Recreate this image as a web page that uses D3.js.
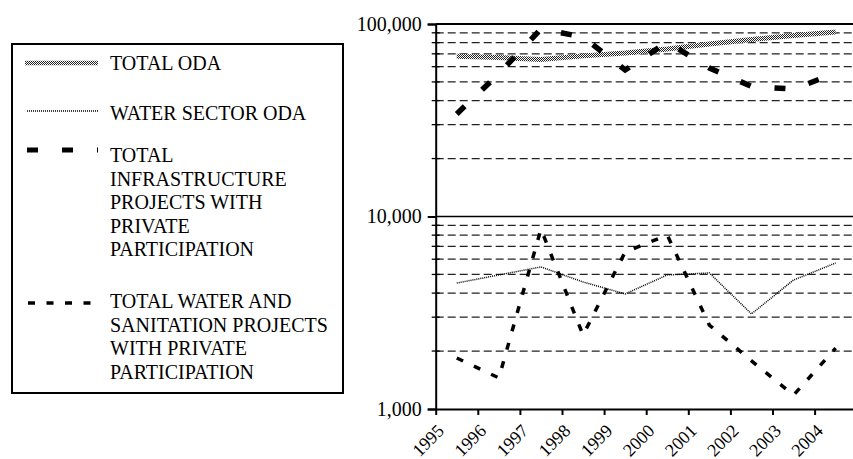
<!DOCTYPE html>
<html>
<head>
<meta charset="utf-8">
<script src="https://cdn.jsdelivr.net/npm/d3@7/dist/d3.min.js"></script>
<style>
  html, body { margin: 0; padding: 0; background: #fff; }
  svg { display: block; }
</style>
</head>
<body>
<svg id="chart" width="853" height="459"></svg>
<script>
// ---- data ----
const years = ["1995","1996","1997","1998","1999","2000","2001","2002","2003","2004"];
const totalOda = [67900, 67000, 65500, 68300, 70700, 74200, 78800, 83100, 87200, 90900];
const waterOda = [4510, 4970, 5470, 4570, 3960, 4970, 5090, 3120, 4680, 5730];
const totalPpi = [34100, 55200, 94200, 85600, 57700, 80600, 59100, 47400, 45900, 55600];
const waterPpi = [1840, 1450, 8610, 2420, 6540, 8010, 2730, 1780, 1180, 2070];
const yTickValues = [1000, 10000, 100000];
const yTickLabels = ["1,000", "10,000", "100,000"];
const legendLabels = [
  ["TOTAL ODA"],
  ["WATER SECTOR ODA"],
  ["TOTAL", "INFRASTRUCTURE", "PROJECTS WITH", "PRIVATE", "PARTICIPATION"],
  ["TOTAL WATER AND", "SANITATION PROJECTS", "WITH PRIVATE", "PARTICIPATION"]
];

(function () {
const FONT = "Liberation Serif";
// ---- layout ----
const svg = d3.select("#chart");
const left = 435.7, bottom = 409, plotTop = 24, step = 42.1;
const x = d3.scaleLinear().domain([0, years.length]).range([left, left + step * years.length]);
const y = d3.scaleLog().domain([1000, 100000]).range([bottom, plotTop]);

// pattern for TOTAL ODA band
const defs = svg.append("defs");
const pat = defs.append("pattern").attr("id", "checker")
  .attr("patternUnits", "userSpaceOnUse").attr("width", 2).attr("height", 2);
pat.append("rect").attr("width", 2).attr("height", 2).attr("fill", "#fff");
pat.append("rect").attr("x", 0).attr("y", 0).attr("width", 1).attr("height", 1).attr("fill", "#222");
pat.append("rect").attr("x", 1).attr("y", 1).attr("width", 1).attr("height", 1).attr("fill", "#222");

// ---- gridlines ----
const minorVals = [];
[1000, 10000].forEach(b => { for (let k = 2; k <= 9; k++) minorVals.push(b * k); });
svg.append("g").selectAll("line").data(minorVals).join("line")
  .attr("x1", left).attr("x2", 853)
  .attr("y1", d => y(d)).attr("y2", d => y(d))
  .attr("stroke", "#222").attr("stroke-width", 1.3).attr("stroke-dasharray", "8,4");
svg.append("g").selectAll("line").data([10000, 100000]).join("line")
  .attr("x1", left).attr("x2", 853)
  .attr("y1", d => y(d)).attr("y2", d => y(d))
  .attr("stroke", "#000").attr("stroke-width", d => d === 100000 ? 2 : 1.6);

// minor ticks crossing axis
svg.append("g").selectAll("line").data(minorVals).join("line")
  .attr("x1", left - 4).attr("x2", left + 4)
  .attr("y1", d => y(d)).attr("y2", d => y(d))
  .attr("stroke", "#000").attr("stroke-width", 1.3);

// ---- axes ----
const yAxis = d3.axisLeft(y).tickValues(yTickValues)
  .tickFormat((d, i) => yTickLabels[i]).tickSize(8).tickPadding(6);
const gy = svg.append("g").attr("transform", `translate(${left},0)`).call(yAxis);
gy.select(".domain").attr("stroke", "#000").attr("stroke-width", 2);
gy.selectAll(".tick line").attr("stroke", "#000").attr("stroke-width", 2);
gy.selectAll(".tick text").attr("font-size", 20).attr("font-family", FONT).attr("fill", "#000");

const xAxis = d3.axisBottom(x).tickValues(d3.range(years.length))
  .tickFormat(i => years[i]).tickSize(6).tickSizeOuter(0);
const gx = svg.append("g").attr("transform", `translate(0,${bottom})`).call(xAxis);
gx.select(".domain").attr("stroke", "#000").attr("stroke-width", 2);
gx.selectAll(".tick line").attr("stroke", "#000").attr("stroke-width", 2);
gx.selectAll(".tick text")
  .attr("font-size", 18).attr("font-family", FONT).attr("fill", "#000")
  .attr("text-anchor", "end").attr("dy", null).attr("y", null)
  .attr("transform", "translate(9,23) rotate(-45)");

// ---- series ----
const line = d3.line().x((d, i) => x(i + 0.5)).y(d => y(d));
svg.append("path").datum(totalOda).attr("d", line)
  .attr("fill", "none").attr("stroke", "url(#checker)").attr("stroke-width", 5);
svg.append("path").datum(waterOda).attr("d", line)
  .attr("fill", "none").attr("stroke", "#000").attr("stroke-width", 1.5).attr("stroke-dasharray", "1,1");
svg.append("path").datum(totalPpi).attr("d", line)
  .attr("fill", "none").attr("stroke", "#000").attr("stroke-width", 5.5).attr("stroke-dasharray", "11,24");
svg.append("path").datum(waterPpi).attr("d", line)
  .attr("fill", "none").attr("stroke", "#000").attr("stroke-width", 3.5).attr("stroke-dasharray", "7,12");

// ---- legend ----
const lg = svg.append("g");
lg.append("rect").attr("x", 12).attr("y", 44).attr("width", 331).attr("height", 349)
  .attr("fill", "#fff").attr("stroke", "#000").attr("stroke-width", 2);
const legendStyles = [
  { y: 63, stroke: "url(#checker)", w: 4.5, dash: null, x1: 25, base: 70 },
  { y: 111, stroke: "#000", w: 1.5, dash: "1,1", x1: 27, base: 120 },
  { y: 150, stroke: "#000", w: 5, dash: "11,24", x1: 27, base: 162 },
  { y: 303, stroke: "#000", w: 3.5, dash: "7,11.5", x1: 28, base: 308 }
];
legendStyles.forEach((s, i) => {
  lg.append("line").attr("x1", s.x1).attr("x2", 98).attr("y1", s.y).attr("y2", s.y)
    .attr("stroke", s.stroke).attr("stroke-width", s.w)
    .attr("stroke-dasharray", s.dash);
  const t = lg.append("text").attr("x", 110).attr("y", s.base)
    .attr("font-size", 20).attr("fill", "#000").attr("font-family", FONT);
  legendLabels[i].forEach((ln, j) => {
    t.append("tspan").attr("x", 110).attr("y", s.base + j * 23.6).text(ln);
  });
});
})();
</script>
</body>
</html>
